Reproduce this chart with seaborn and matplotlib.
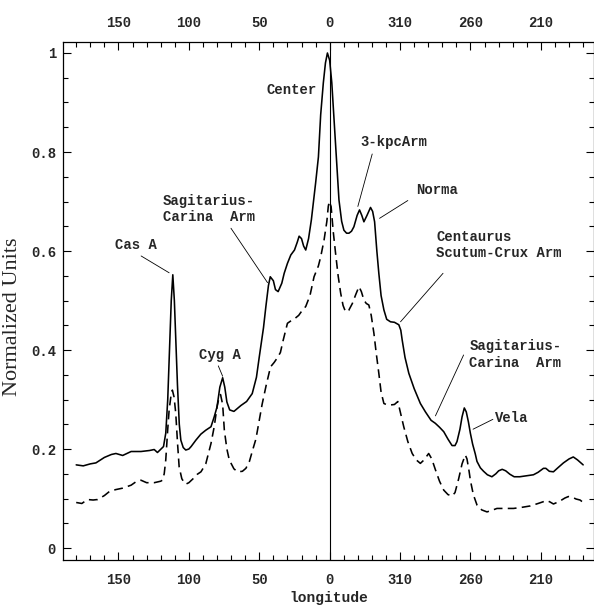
import numpy as np
import pandas as pd
import matplotlib
matplotlib.use("Agg")
import matplotlib.pyplot as plt
import seaborn as sns
from matplotlib.ticker import FixedLocator, MultipleLocator

# galactic longitude, signed: left half = l, right half = l - 360
lon_total = [180, 175, 170, 166, 160, 155, 151.8, 147, 141, 134, 128, 124.6, 122.3, 118,
             116.4, 115, 114, 112.5, 111.4, 110.3, 109, 108.1, 106.8, 105.7, 104, 102.2,
             100, 98.4, 95, 91.5, 88, 84.3, 82, 80, 78, 76, 74.5, 73, 71, 68, 63, 59, 55,
             52, 50, 47, 45.3, 43.5, 42.2, 40, 38.5, 36.6, 34, 32.3, 30, 27.6, 25, 23, 21.7,
             20, 18.5, 17, 15, 13, 11.5, 10, 8, 6.4, 4.5, 3, 1.6, 0, -1.5, -3, -5, -6.6,
             -8.5, -10.1, -12, -13.7, -15.5, -17.2, -19.5, -21.2, -22.8, -24.3, -26.5, -29,
             -30.5, -31.9, -33.5, -34.9, -36.5, -38.5, -40.5, -43.2, -46, -49.1, -50.5,
             -51.5, -53.5, -56.2, -60, -64.4, -68, -72, -75, -78, -81, -84, -86.9, -89,
             -90.4, -92.5, -94, -95.6, -97, -98.5, -99.9, -101.5, -103.4, -104.6, -107,
             -109.3, -112, -115.2, -118, -120, -122.5, -125, -128, -131, -135, -140, -144.7,
             -148, -151.8, -153.5, -156, -158.9, -162, -166, -170, -173, -176, -180]
total = [0.168, 0.166, 0.170, 0.172, 0.183, 0.189, 0.191, 0.187, 0.195, 0.195, 0.197, 0.199,
         0.193, 0.205, 0.232, 0.30, 0.38, 0.50, 0.552, 0.50, 0.40, 0.33, 0.25, 0.218, 0.203,
         0.198, 0.200, 0.205, 0.218, 0.230, 0.238, 0.245, 0.265, 0.285, 0.325, 0.344, 0.325,
         0.295, 0.279, 0.276, 0.288, 0.296, 0.312, 0.345, 0.386, 0.445, 0.488, 0.530, 0.548,
         0.540, 0.522, 0.518, 0.535, 0.555, 0.575, 0.592, 0.602, 0.618, 0.630, 0.625, 0.610,
         0.602, 0.625, 0.663, 0.70, 0.737, 0.790, 0.875, 0.94, 0.98, 1.0, 0.985, 0.94, 0.871,
         0.78, 0.703, 0.66, 0.642, 0.636, 0.636, 0.640, 0.649, 0.672, 0.683, 0.672, 0.659,
         0.672, 0.688, 0.680, 0.659, 0.60, 0.555, 0.510, 0.481, 0.462, 0.457, 0.456, 0.451,
         0.44, 0.42, 0.385, 0.353, 0.322, 0.292, 0.275, 0.258, 0.252, 0.244, 0.235, 0.220,
         0.207, 0.207, 0.215, 0.240, 0.265, 0.283, 0.275, 0.255, 0.232, 0.210, 0.190, 0.175,
         0.162, 0.155, 0.148, 0.144, 0.150, 0.156, 0.159, 0.156, 0.149, 0.144, 0.144, 0.146,
         0.148, 0.153, 0.161, 0.161, 0.155, 0.154, 0.162, 0.172, 0.180, 0.184, 0.178, 0.168]

lon_second = [180, 176, 172, 168, 164.8, 160, 156.5, 152, 147, 141, 137, 134, 130, 124.6, 120,
              118.8, 117.5, 116.4, 115, 114, 112.5, 111.7, 110.5, 109.3, 108, 106.9, 105, 103,
              102.2, 100, 97, 94, 91.4, 88, 84.3, 82, 80, 78.5, 77.5, 76, 74.8, 73, 71.3, 68,
              65.4, 62, 59.5, 57, 54.7, 52.4, 50, 48, 45, 42, 39.4, 37, 35, 33, 30, 27, 25, 22,
              20, 17, 14, 11.1, 8, 6.4, 4, 2, 1, 0.3, -1, -2.5, -4.2, -6, -7.8, -9.5, -11.3,
              -13.5, -16.1, -18.5, -20.8, -22.5, -24.3, -26, -27.8, -29.5, -31.4, -33, -34.9,
              -36.5, -38.5, -41, -43.2, -46, -48.4, -50.5, -52.6, -55.5, -58.6, -61.5, -64.4,
              -67, -70.3, -72.5, -75.1, -78, -81, -84, -86.9, -89, -91.6, -94, -96.3, -97.5,
              -99, -99.9, -102, -104.6, -108, -111.7, -115, -118.8, -124, -130.5, -136, -142.4,
              -148, -154.2, -156.5, -158.9, -163, -167, -169.5, -172, -175, -177.8, -180]
second = [0.092, 0.090, 0.098, 0.097, 0.098, 0.106, 0.114, 0.118, 0.121, 0.127, 0.135, 0.137,
          0.132, 0.132, 0.135, 0.137, 0.150, 0.178, 0.240, 0.279, 0.312, 0.319, 0.305, 0.272,
          0.210, 0.164, 0.140, 0.131, 0.129, 0.132, 0.140, 0.149, 0.154, 0.170, 0.211, 0.245,
          0.285, 0.305, 0.31, 0.290, 0.238, 0.200, 0.178, 0.160, 0.154, 0.155, 0.161, 0.175,
          0.198, 0.220, 0.258, 0.290, 0.330, 0.366, 0.375, 0.385, 0.395, 0.420, 0.454, 0.460,
          0.463, 0.470, 0.478, 0.488, 0.510, 0.548, 0.57, 0.588, 0.622, 0.66, 0.69, 0.70, 0.69,
          0.64, 0.595, 0.55, 0.515, 0.49, 0.477, 0.480, 0.494, 0.512, 0.528, 0.518, 0.501,
          0.494, 0.491, 0.47, 0.434, 0.395, 0.353, 0.315, 0.292, 0.289, 0.289, 0.290, 0.296,
          0.27, 0.245, 0.215, 0.191, 0.178, 0.171, 0.178, 0.191, 0.180, 0.158, 0.135, 0.117,
          0.108, 0.105, 0.112, 0.140, 0.170, 0.188, 0.180, 0.155, 0.137, 0.108, 0.087, 0.077,
          0.073, 0.076, 0.080, 0.080, 0.080, 0.082, 0.085, 0.090, 0.096, 0.093, 0.089, 0.094,
          0.101, 0.104, 0.103, 0.099, 0.097, 0.092]

tick_pos = [150, 100, 50, 0, -50, -100, -150]
tick_labels = ["150", "100", "50", "0", "310", "260", "210"]

# label text, text anchor (left, centre), leader line start, leader line end
notes = [
    ("Cas A", (152.2, 0.612), (133.9, 0.590), (114.0, 0.556)),
    ("Cyg A", (92.8, 0.389), (79.1, 0.368), (76.0, 0.347)),
    ("Sagitarius-\nCarina  Arm", (118.3, 0.685), (70.1, 0.646), (44.1, 0.536)),
    ("Center", (44.6, 0.925), None, None),
    ("3-kpcArm", (-22.0, 0.821), (-30.2, 0.796), (-20.0, 0.690)),
    ("Norma", (-61.6, 0.723), (-55.5, 0.702), (-35.4, 0.666)),
    ("Centaurus\nScutum-Crux Arm", (-75.8, 0.612), (-80.5, 0.555), (-50.3, 0.457)),
    ("Sagitarius-\nCarina  Arm", (-99.2, 0.391), (-95.1, 0.390), (-75.1, 0.267)),
    ("Vela", (-117.6, 0.262), (-115.9, 0.260), (-101.8, 0.240)),
]

sns.set_theme(style="ticks")
mono = ["Liberation Mono", "DejaVu Sans Mono"]
plt.rcParams["font.family"] = mono

fig = plt.figure(figsize=(5.94, 6.07), dpi=100)
ax = fig.add_axes([0.106, 0.0774, 0.894, 0.8534])

df_total = pd.DataFrame({"lon": lon_total, "value": total})
df_second = pd.DataFrame({"lon": lon_second, "value": second})
sns.lineplot(data=df_total, x="lon", y="value", estimator=None, sort=False,
             color="black", linewidth=1.15, ax=ax)
sns.lineplot(data=df_second, x="lon", y="value", estimator=None, sort=False,
             color="black", linewidth=1.15, ax=ax)
ax.lines[1].set_dashes((5.5, 3.3))

ax.axvline(0, color="black", linewidth=0.8)

ax.set_xlim(189.4, -187.7)
ax.set_ylim(-0.0242, 1.0222)

ax.xaxis.set_major_locator(FixedLocator(tick_pos))
ax.set_xticklabels(tick_labels)
ax.xaxis.set_minor_locator(FixedLocator(np.arange(-180, 181, 10)))
ax.yaxis.set_major_locator(FixedLocator([0, 0.2, 0.4, 0.6, 0.8, 1.0]))
ax.set_yticklabels(["0", "0.2", "0.4", "0.6", "0.8", "1"])
ax.yaxis.set_minor_locator(MultipleLocator(0.05))

ax.tick_params(which="both", direction="in", top=True, right=True,
               labeltop=True, width=0.8, color="black")
ax.tick_params(which="major", length=6)
ax.tick_params(which="minor", length=3.5)
ax.tick_params(axis="x", which="major", pad=9, labelsize=10)
ax.tick_params(axis="y", which="major", pad=5, labelsize=10)
for lab in ax.get_xticklabels() + ax.get_yticklabels():
    lab.set_fontweight("bold")
for side in ax.spines.values():
    side.set_linewidth(0.9)
    side.set_color("black")

ax.set_xlabel("longitude", fontsize=10.5, fontweight="bold")
ax.xaxis.set_label_coords(0.5, -0.06)
ax.set_ylabel("Normalized Units", fontsize=16, family=["Liberation Serif", "DejaVu Serif"])
ax.yaxis.set_label_coords(-0.078, 0.47)

for text, pos, start, end in notes:
    ax.text(pos[0], pos[1], text, ha="left", va="center", fontsize=10,
            fontweight="bold", linespacing=1.25)
    if start is not None:
        ax.annotate("", xy=end, xytext=start,
                    arrowprops=dict(arrowstyle="-", color="black", lw=0.6,
                                    shrinkA=0, shrinkB=0))

fig.savefig("out.png", dpi=100)
